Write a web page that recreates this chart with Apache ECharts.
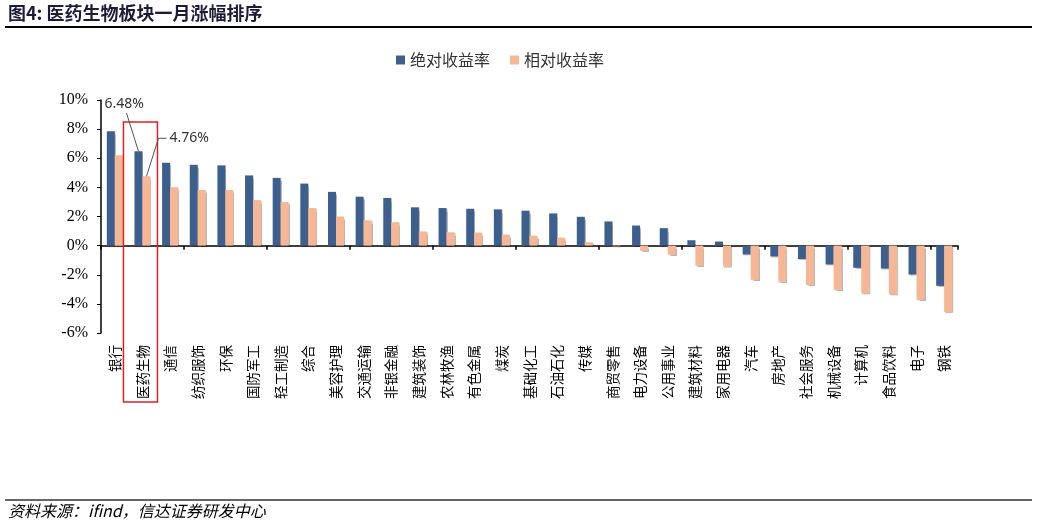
<!DOCTYPE html>
<html><head><meta charset="utf-8">
<script src="https://cdn.jsdelivr.net/npm/echarts@6/dist/echarts.min.js"></script>
<style>html,body{margin:0;padding:0;background:#fff;}#c{width:1037px;height:528px;}</style>
</head><body><div id="c"></div>
<script>
const categories = ['银行','医药生物','通信','纺织服饰','环保','国防军工','轻工制造','综合','美容护理','交通运输','非银金融','建筑装饰','农林牧渔','有色金属','煤炭','基础化工','石油石化','传媒','商贸零售','电力设备','公用事业','建筑材料','家用电器','汽车','房地产','社会服务','机械设备','计算机','食品饮料','电子','钢铁'];
const absReturn = [7.86,6.48,5.69,5.55,5.51,4.82,4.65,4.26,3.69,3.36,3.27,2.63,2.58,2.53,2.49,2.40,2.21,1.98,1.66,1.38,1.20,0.37,0.28,-0.60,-0.74,-0.92,-1.29,-1.52,-1.57,-1.98,-2.76];
const relReturn = [6.20,4.76,4.01,3.82,3.82,3.13,3.00,2.58,2.00,1.73,1.61,0.97,0.92,0.90,0.76,0.69,0.55,0.23,-0.05,-0.35,-0.62,-1.38,-1.43,-2.35,-2.49,-2.70,-3.04,-3.27,-3.34,-3.73,-4.56];
const seriesNames = ['绝对收益率','相对收益率'];
const yTicks = {min:-6, max:10, interval:2};
const highlight = '医药生物';

const chart = echarts.init(document.getElementById('c'), null, {renderer:'canvas'});
const cjk = '"Noto Sans CJK SC", "Noto Sans", sans-serif';
const shadow = {shadowColor:'rgba(0,0,0,0.28)', shadowOffsetX:1, shadowOffsetY:1, shadowBlur:1};
chart.setOption({
  animation:false,
  backgroundColor:'#fff',
  grid:{left:101, right:79, top:100, bottom:195},
  legend:{left:391, top:47, itemWidth:9, itemHeight:9, itemGap:20, icon:'rect',
    textStyle:{fontFamily:cjk, fontSize:16, color:'#333'}, data:seriesNames},
  xAxis:[{type:'category', data:categories, axisLine:{onZero:true, lineStyle:{color:'#000', width:1.5}},
      axisTick:{show:true, length:4, lineStyle:{color:'#000', width:1.5}}, axisLabel:{show:false}},
    {type:'category', data:categories, position:'bottom', axisLine:{show:false}, axisTick:{show:false},
      axisLabel:{rotate:90, margin:12, fontFamily:cjk, fontSize:13.5, color:'#000', interval:0}}],
  yAxis:{type:'value', min:yTicks.min, max:yTicks.max, interval:yTicks.interval,
    splitLine:{show:false}, axisLine:{show:true, lineStyle:{color:'#000', width:1.5}},
    axisTick:{show:true, length:4, lineStyle:{color:'#000'}},
    axisLabel:{formatter:'{value}%', fontFamily:'"Liberation Serif", serif', fontSize:16, color:'#000', margin:13}},
  series:[
    {name:seriesNames[0], type:'bar', data:absReturn, barWidth:8, barGap:'0%', itemStyle:Object.assign({color:'#3C5F8E'}, shadow)},
    {name:seriesNames[1], type:'bar', data:relReturn, barWidth:8, barGap:'0%', itemStyle:Object.assign({color:'#F8B794'}, shadow)}
  ],
  graphic:[]
});

const idx = categories.indexOf(highlight);
const cx = chart.convertToPixel({xAxisIndex:0}, highlight);
const yA = chart.convertToPixel({yAxisIndex:0}, absReturn[idx]);
const yR = chart.convertToPixel({yAxisIndex:0}, relReturn[idx]);
const yTop = chart.convertToPixel({yAxisIndex:0}, yTicks.max);
const yBot = chart.convertToPixel({yAxisIndex:0}, yTicks.min);
const bw = 8;
const blueX = cx - bw/2, orX = cx + bw/2;
const lblFont = '14px "Noto Sans", "DejaVu Sans", sans-serif';
chart.setOption({graphic:[
  {type:'text', left:8, top:4, style:{text:'图4: 医药生物板块一月涨幅排序', font:'bold 18px "Noto Sans CJK SC", sans-serif', fill:'#1b1b3a'}},
  {type:'line', shape:{x1:5, y1:27, x2:1032, y2:27}, style:{stroke:'#000', lineWidth:2}},
  {type:'line', shape:{x1:5, y1:500, x2:1032, y2:500}, style:{stroke:'#666', lineWidth:2}},
  {type:'text', left:8, top:503, style:{text:'资料来源：ifind，信达证券研发中心', font:'italic 16px "Noto Sans CJK SC", serif', fill:'#000'}},
  {type:'rect', shape:{x:cx-19, y:yTop+22, width:34, height:(yBot-yTop)+47}, style:{fill:'none', stroke:'#E02020', lineWidth:1.5}, z:10},
  {type:'text', x:cx-38, y:yTop-3, style:{text:absReturn[idx].toFixed(2)+'%', font:lblFont, fill:'#333', textVerticalAlign:'top'}, z:11},
  {type:'line', shape:{x1:cx-16, y1:yTop+13, x2:blueX, y2:yA}, style:{stroke:'#555', lineWidth:1}, z:11},
  {type:'text', x:cx+27, y:yR-38, style:{text:relReturn[idx].toFixed(2)+'%', font:lblFont, fill:'#333', textVerticalAlign:'middle'}, z:11},
  {type:'polyline', shape:{points:[[orX,yR],[cx+16,yR-38],[cx+24,yR-38]]}, style:{stroke:'#555', lineWidth:1, fill:'none'}, z:11}
]});
</script></body></html>
